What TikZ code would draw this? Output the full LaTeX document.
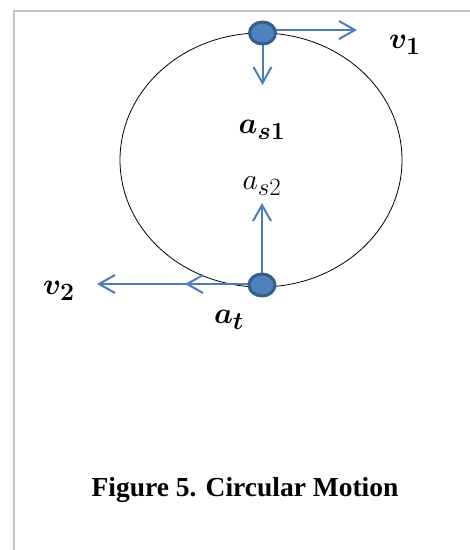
\documentclass[tikz,border=0pt]{standalone}
\usepackage{amsmath}
\usepackage{bm}
\usepackage{fontspec}
\setmainfont{Liberation Serif}
\usetikzlibrary{arrows.meta,shapes.geometric,backgrounds}
\definecolor{vblue}{HTML}{4A7EBB}
\definecolor{dotfill}{HTML}{4F81BD}
\definecolor{dotedge}{HTML}{385D8A}
\definecolor{framegray}{HTML}{C4C4C4}
\newcommand{\biglbl}[1]{\scalebox{1.2}{\Huge $#1$}}
\begin{document}
\begin{tikzpicture}[x=1pt,y=-1pt,
  vec/.style={draw=vblue, line width=2pt, -{Straight Barb[length=16pt,width=18pt,line width=2pt]}},
  particle/.style={ellipse, fill=dotfill, draw=dotedge, line width=3pt, minimum width=26pt, minimum height=22pt, inner sep=0pt},
  lbl/.style={inner sep=0pt},
  caption/.style={font=\bfseries\fontsize{27.5}{30}\selectfont, inner sep=0pt}]
  \useasboundingbox (0,0) rectangle (470,550);
  % particles
  \node[particle] (top) at (262.5,33) {};
  \node[particle] (bot) at (262,285) {};
  % arrow tips
  \coordinate (v1tip) at (357,30);
  \coordinate (as1tip) at (262.5,85);
  \coordinate (as2tip) at (262,203);
  \coordinate (attip) at (185,284);
  \coordinate (v2tip) at (97,284);
  \begin{scope}[on background layer]
    \draw[framegray, line width=2pt] (13.5,550) -- (13.5,10.5) -- (470,10.5);
    \draw[black, line width=0.8pt] (261,160) ellipse [x radius=141pt, y radius=127pt];
    \draw[vec] ([yshift=3pt]top.center) -- (v1tip);
    \draw[vec] (top.center) -- (as1tip);
    \draw[vec] (bot.center) -- (as2tip);
    \draw[vec] ([yshift=1pt]bot.center) -- (v2tip);
    \draw[vec] ([yshift=1pt]bot.center) -- (attip);
  \end{scope}
  % labels
  \node[lbl] (v1) at (405,45) {\biglbl{\bm{v_1}}};
  \node[lbl] (as1) at (262,130) {\biglbl{\bm{a_{s1}}}};
  \node[lbl] (as2) at (262,186) {\biglbl{a_{s2}}};
  \node[lbl] (at) at (229,320) {\biglbl{\bm{a_t}}};
  \node[lbl] (v2) at (59,291) {\biglbl{\bm{v_2}}};
  \node[caption] (cap) at (245,490) {Figure 5. Circular Motion};
\end{tikzpicture}
\end{document}
